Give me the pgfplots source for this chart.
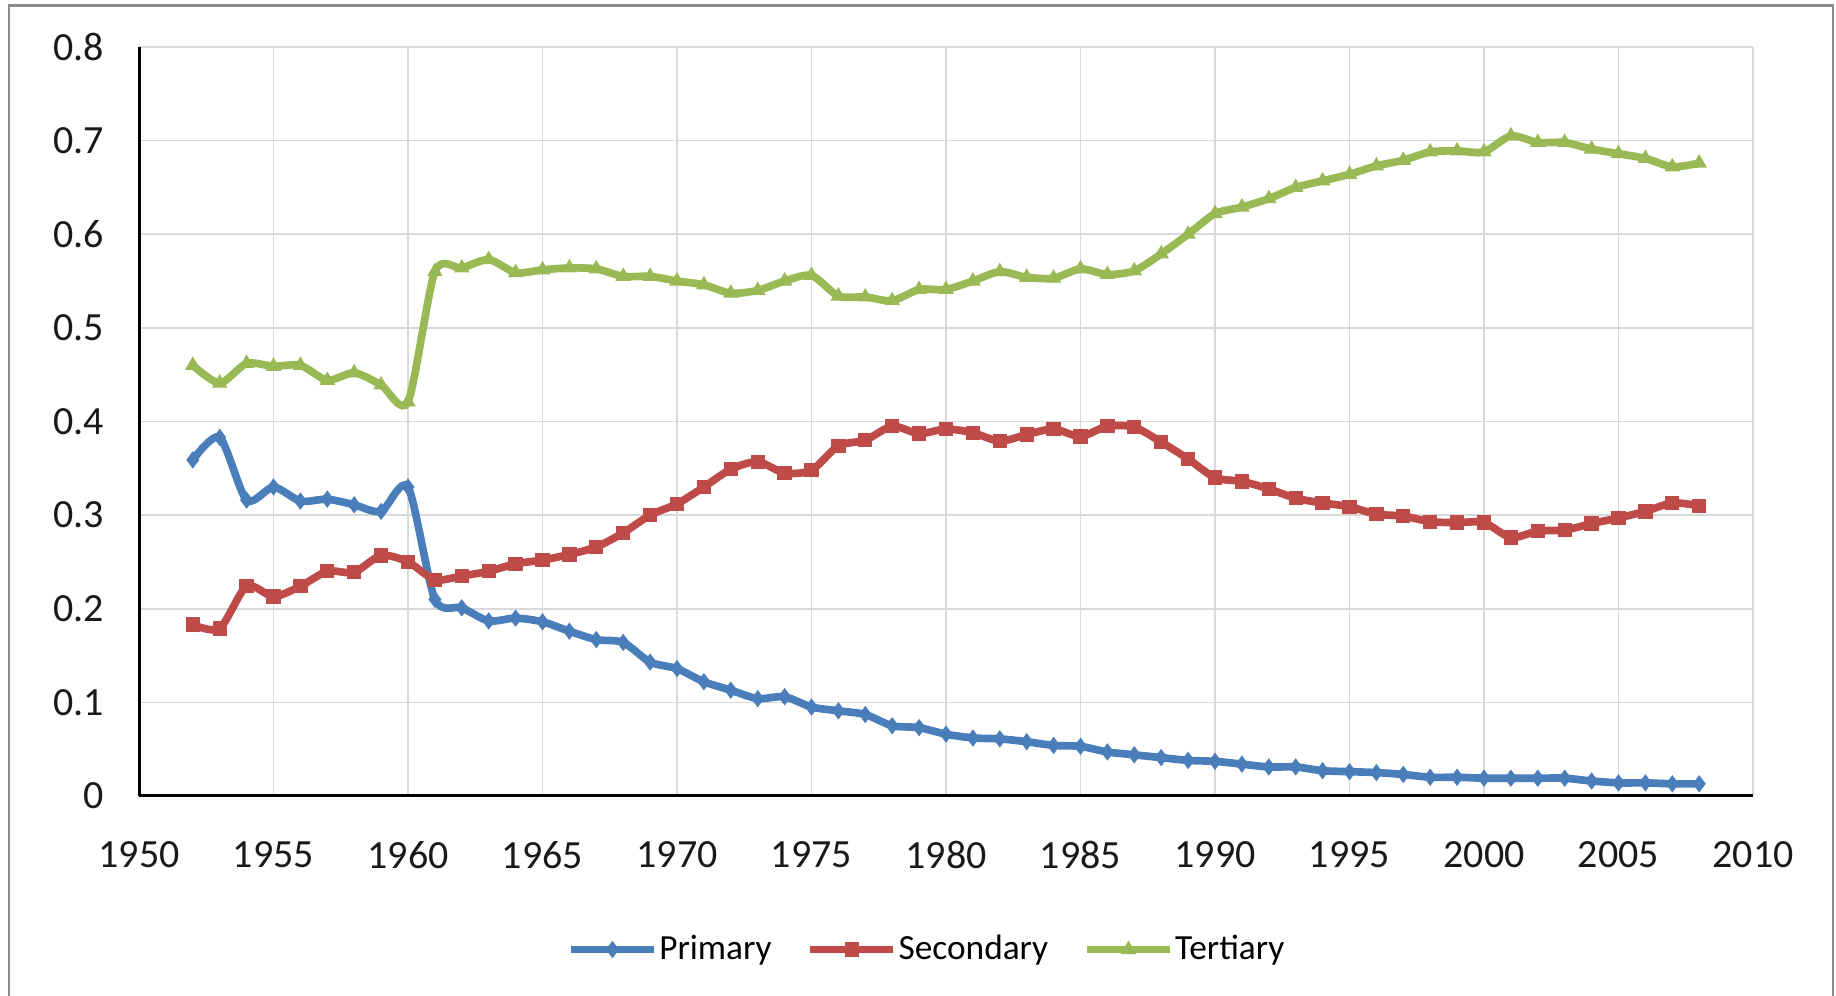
\documentclass[border=0pt]{standalone}
\usepackage{fontspec}
\setmainfont{Carlito}
\usepackage{pgfplots}
\usepackage{pgfplotstable}
\pgfplotsset{compat=1.18}
\usetikzlibrary{plotmarks}
\definecolor{pblue}{HTML}{4A7EBB}
\definecolor{pred}{HTML}{BE4B48}
\definecolor{pgreen}{HTML}{98B954}

\pgfplotstableread{
year primary secondary tertiary
1952 0.359 0.183 0.460
1953 0.383 0.179 0.441
1954 0.316 0.224 0.462
1955 0.330 0.213 0.459
1956 0.315 0.224 0.460
1957 0.317 0.240 0.444
1958 0.311 0.239 0.452
1959 0.304 0.257 0.439
1960 0.330 0.250 0.421
1961 0.210 0.231 0.560
1962 0.201 0.235 0.564
1963 0.187 0.240 0.573
1964 0.190 0.248 0.559
1965 0.186 0.252 0.562
1966 0.176 0.258 0.564
1967 0.167 0.266 0.563
1968 0.164 0.281 0.555
1969 0.143 0.300 0.555
1970 0.136 0.312 0.550
1971 0.122 0.330 0.546
1972 0.113 0.349 0.537
1973 0.104 0.357 0.540
1974 0.106 0.345 0.550
1975 0.095 0.348 0.556
1976 0.091 0.374 0.534
1977 0.087 0.380 0.533
1978 0.075 0.395 0.529
1979 0.073 0.387 0.541
1980 0.066 0.392 0.541
1981 0.062 0.388 0.550
1982 0.061 0.379 0.560
1983 0.058 0.386 0.554
1984 0.054 0.392 0.553
1985 0.053 0.384 0.563
1986 0.047 0.395 0.557
1987 0.044 0.394 0.561
1988 0.041 0.378 0.579
1989 0.038 0.360 0.600
1990 0.037 0.340 0.622
1991 0.034 0.336 0.629
1992 0.031 0.328 0.638
1993 0.031 0.318 0.650
1994 0.027 0.313 0.657
1995 0.026 0.309 0.664
1996 0.025 0.301 0.673
1997 0.023 0.299 0.679
1998 0.020 0.293 0.688
1999 0.020 0.292 0.689
2000 0.019 0.292 0.688
2001 0.019 0.276 0.705
2002 0.019 0.283 0.698
2003 0.019 0.284 0.698
2004 0.016 0.291 0.691
2005 0.014 0.297 0.686
2006 0.014 0.304 0.681
2007 0.013 0.313 0.672
2008 0.013 0.310 0.676
}\datatable

\begin{document}
\begin{tikzpicture}
\useasboundingbox (0,0) rectangle (550.8pt,298.8pt);
\draw[black!45, line width=0.8pt] (2.7pt,-5pt) -- (2.7pt,297.1pt) -- (549.9pt,297.1pt) -- (549.9pt,-5pt);
\begin{axis}[
  at={(41.7pt,60pt)}, anchor=south west,
  width=484.2pt, height=224.7pt, scale only axis,
  xmin=1950, xmax=2010, ymin=0, ymax=0.8,
  xtick={1950,1955,1960,1965,1970,1975,1980,1985,1990,1995,2000,2005,2010},
  xticklabels={1950,1955,1960,1965,1970,1975,1980,1985,1990,1995,2000,2005,2010},
  ytick={0,0.1,0.2,0.3,0.4,0.5,0.6,0.7,0.8},
  yticklabels={0,0.1,0.2,0.3,0.4,0.5,0.6,0.7,0.8},
  major tick length=0pt,
  axis x line*=bottom, axis y line*=left,
  axis line style={black, line width=0.9pt},
  grid=major,
  major grid style={black!15, line width=0.5pt},
  tick label style={font=\fontsize{12}{14}\selectfont, text=black!90},
  xticklabel style={yshift=-10pt},
  yticklabel style={xshift=-7pt},
  legend style={at={(0.488,-0.205)}, anchor=center, legend columns=3, draw=none, fill=none,
    font=\fontsize{10.6}{13}\selectfont,
    nodes={inner xsep=0.5pt},
    /tikz/every even column/.append style={column sep=10pt}},
  legend image code/.code={\draw[#1, mark repeat=2, mark phase=2] plot coordinates {(0pt,0pt) (12.4pt,0pt) (24.8pt,0pt)};},
  every axis plot/.append style={smooth, tension=0.45, line width=2.3pt},
]
\addplot[pblue, mark=diamond*, mark size=2.2pt, mark options={line width=0.5pt}] table[x=year, y=primary] {\datatable};
\addlegendentry{Primary}
\addplot[pred, mark=square*, mark size=1.9pt, mark options={line width=0.5pt}] table[x=year, y=secondary] {\datatable};
\addlegendentry{Secondary}
\addplot[pgreen, mark=triangle*, mark size=2.2pt, mark options={line width=0.5pt}] table[x=year, y=tertiary] {\datatable};
\addlegendentry{Tertiary}
\end{axis}
\end{tikzpicture}
\end{document}
